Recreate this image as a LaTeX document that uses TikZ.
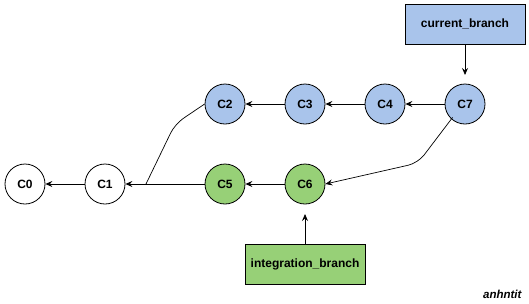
\documentclass[tikz,border=0pt]{standalone}
\usepackage{fontspec}
\setmainfont{Liberation Sans}
\usetikzlibrary{arrows.meta}
\definecolor{bluefill}{HTML}{A9C4EB}
\definecolor{greenfill}{HTML}{97D077}
\begin{document}
\begin{tikzpicture}[x=1pt,y=-1pt,
  commit/.style={circle,draw=black,line width=0.8pt,minimum size=40pt,inner sep=0pt,
    font=\fontsize{12}{14}\selectfont\bfseries},
  branchbox/.style={rectangle,draw=black,line width=0.8pt,minimum width=120pt,minimum height=40pt,
    inner sep=0pt,font=\fontsize{12}{14}\selectfont\bfseries},
  link/.style={draw=black,line width=0.8pt,-{Stealth[length=7pt,width=6pt,inset=2.5pt]}},
  plain/.style={draw=black,line width=0.7pt}]
\useasboundingbox (0,0) rectangle (529,303);
% commits
\node[commit] (c0) at (25,184) {C0};
\node[commit] (c1) at (105,184) {C1};
\node[commit,fill=bluefill] (c2) at (225,104) {C2};
\node[commit,fill=bluefill] (c3) at (305,104) {C3};
\node[commit,fill=bluefill] (c4) at (385,104) {C4};
\node[commit,fill=bluefill] (c7) at (465,104) {C7};
\node[commit,fill=greenfill] (c5) at (225,184) {C5};
\node[commit,fill=greenfill] (c6) at (305,184) {C6};
% branch labels
\node[branchbox,fill=bluefill] (cur) at (465,24) {current\_branch};
\node[branchbox,fill=greenfill] (integ) at (305,264) {integration\_branch};
\coordinate (join) at (146,184);
\coordinate (curtip) at (465,75);
\coordinate (integtip) at (305,214);
% parent links
\draw[link] (c1) -- (c0);
\draw[link] (c5) -- (c1);
\draw[link] (c3) -- (c2);
\draw[link] (c4) -- (c3);
\draw[link] (c7) -- (c4);
\draw[link] (c6) -- (c5);
\draw[plain,rounded corners=10pt] (c2.west) -- (175,124) -- (join);
\draw[link,line width=0.7pt,rounded corners=10pt] (c7.south west) ++(2,-1) -- (418,163) -- (c6.east);
\draw[link] (cur) -- (curtip);
\draw[link] (integ) -- (integtip);
% signature
\node[anchor=east,font=\fontsize{11.5}{13}\selectfont\bfseries\itshape] (sig) at (525,294) {anhntit};
\end{tikzpicture}
\end{document}
